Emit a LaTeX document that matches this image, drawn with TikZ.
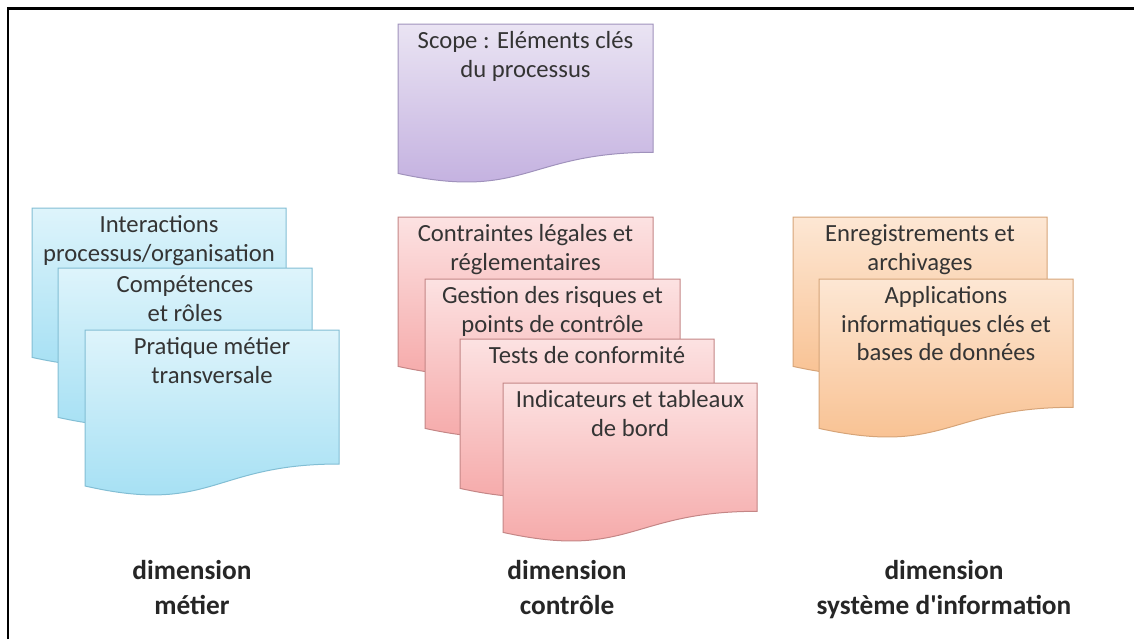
\documentclass[tikz,border=0pt]{standalone}
\usepackage{fontspec}
\setmainfont{Carlito}

\definecolor{bluetop}{RGB}{222,244,251}
\definecolor{bluebot}{RGB}{160,222,243}
\definecolor{blueline}{RGB}{130,190,212}
\definecolor{redtop}{RGB}{252,226,226}
\definecolor{redbot}{RGB}{245,164,164}
\definecolor{redline}{RGB}{196,134,134}
\definecolor{purtop}{RGB}{234,228,243}
\definecolor{purbot}{RGB}{192,172,222}
\definecolor{purline}{RGB}{160,146,188}
\definecolor{orgtop}{RGB}{253,231,212}
\definecolor{orgbot}{RGB}{248,190,140}
\definecolor{orgline}{RGB}{214,164,120}
\definecolor{txtgrey}{RGB}{52,52,52}

\tikzset{every picture/.style={line width=0.75pt}}
\tikzset{
  bluedoc/.style={draw=blueline, top color=bluetop, bottom color=bluebot},
  reddoc/.style={draw=redline, top color=redtop, bottom color=redbot},
  purdoc/.style={draw=purline, top color=purtop, bottom color=purbot},
  orgdoc/.style={draw=orgline, top color=orgtop, bottom color=orgbot},
  doctxt/.style={anchor=north, inner sep=0pt, align=center, text=txtgrey, font=\fontsize{18.5}{21.5}\selectfont},
  dimtxt/.style={anchor=north, inner sep=0pt, align=center, text=black!85, font=\fontsize{20.5}{26}\selectfont\bfseries}
}

\begin{document}
\begin{tikzpicture}[x=0.75pt,y=0.75pt,yscale=-1,xscale=1]
	\useasboundingbox (0,0) rectangle (1134,639);

	%Frame
	\draw [line width=1.9pt]  (8,639) -- (8,8.5) -- (1134,8.5) ;

	%Shape: Document [id:scope] 
	\draw [purdoc]  (398,24) -- (653,24) -- (653,152.3) .. controls (525.5,152.3) and (525.5,201.3) .. (398,173.4) -- cycle ;

	%Shape: Document [id:metier1] 
	\draw [bluedoc]  (32,208) -- (286,208) -- (286,336.3) .. controls (159,336.3) and (159,385.3) .. (32,357.4) -- cycle ;
	%Shape: Document [id:metier2] 
	\draw [bluedoc]  (58,268) -- (312,268) -- (312,396.3) .. controls (185,396.3) and (185,445.3) .. (58,417.4) -- cycle ;
	%Shape: Document [id:metier3] 
	\draw [bluedoc]  (85,330) -- (339,330) -- (339,464) .. controls (212,464) and (212,515) .. (85,486) -- cycle ;

	%Shape: Document [id:controle1] 
	\draw [reddoc]  (398,217) -- (653,217) -- (653,345.3) .. controls (525.5,345.3) and (525.5,394.3) .. (398,366.4) -- cycle ;
	%Shape: Document [id:controle2] 
	\draw [reddoc]  (425,279) -- (680,279) -- (680,407.3) .. controls (552.5,407.3) and (552.5,456.3) .. (425,428.4) -- cycle ;
	%Shape: Document [id:controle3] 
	\draw [reddoc]  (460,339) -- (714,339) -- (714,467.3) .. controls (587,467.3) and (587,516.3) .. (460,488.4) -- cycle ;
	%Shape: Document [id:controle4] 
	\draw [reddoc]  (503,383) -- (757,383) -- (757,511.3) .. controls (630,511.3) and (630,560.3) .. (503,532.4) -- cycle ;

	%Shape: Document [id:si1] 
	\draw [orgdoc]  (793,217) -- (1047,217) -- (1047,345.3) .. controls (920,345.3) and (920,394.3) .. (793,366.4) -- cycle ;
	%Shape: Document [id:si2] 
	\draw [orgdoc]  (819,279) -- (1073,279) -- (1073,407.3) .. controls (946,407.3) and (946,456.3) .. (819,428.4) -- cycle ;

	% Text Node
	\draw (525.5,31) node [doctxt] (scopetxt) {Scope : Eléments clés\\du processus};
	% Text Node
	\draw (159,215) node [doctxt] (metiera) {Interactions\\processus/organisation};
	% Text Node
	\draw (185,275) node [doctxt] (metierb) {Compétences\\et rôles};
	% Text Node
	\draw (212,337) node [doctxt] (metierc) {Pratique métier\\transversale};
	% Text Node
	\draw (525.5,224) node [doctxt] (controlea) {Contraintes légales et\\réglementaires};
	% Text Node
	\draw (552.5,286) node [doctxt] (controleb) {Gestion des risques et\\points de contrôle};
	% Text Node
	\draw (587,346) node [doctxt] (controlec) {Tests de conformité};
	% Text Node
	\draw (630,390) node [doctxt] (controled) {Indicateurs et tableaux\\de bord};
	% Text Node
	\draw (920,224) node [doctxt] (sia) {Enregistrements et\\archivages};
	% Text Node
	\draw (946,286) node [doctxt] (sib) {Applications\\informatiques clés et\\bases de données};

	% Text Node
	\draw (192,560) node [dimtxt] (dimmetier) {dimension\\métier};
	% Text Node
	\draw (567,560) node [dimtxt] (dimcontrole) {dimension\\contrôle};
	% Text Node
	\draw (944,560) node [dimtxt] (dimsi) {dimension\\système d\textquotesingle information};

\end{tikzpicture}
\end{document}
